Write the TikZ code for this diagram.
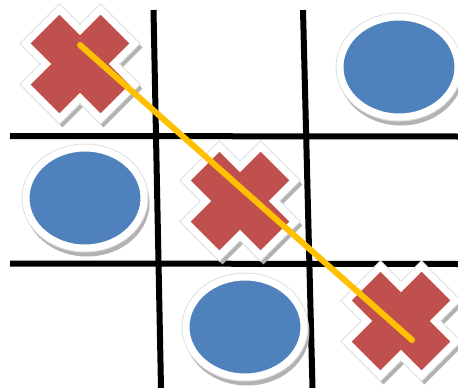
\documentclass[tikz,border=0pt]{standalone}
\usepackage{tikz}
\definecolor{xred}{HTML}{C0504D}
\definecolor{oblue}{HTML}{4F81BD}
\definecolor{wingold}{HTML}{FFC000}
% plus sign, turned 45 degrees inside the pic
\newcommand{\plusoutline}{(24,24) -- (24,53) -- (-24,53) -- (-24,24) -- (-53,24)
  -- (-53,-24) -- (-24,-24) -- (-24,-53) -- (24,-53) -- (24,-24) -- (53,-24)
  -- (53,24) -- cycle}
\tikzset{
  tttgrid/.style   = {line width=6pt, black},
  tttwin/.style    = {line width=6pt, wingold, line cap=round},
  tttshadow/.style = {fill=black!30, draw=black!30, line width=7pt},
  tttedge/.style   = {draw=black!12, line width=9pt},
  tttrim/.style    = {draw=white, line width=7pt},
  tttx/.pic = {
    \path[tttshadow, shift={(3,4)}, rotate=45] \plusoutline;
    \path[tttedge, rotate=45] \plusoutline;
    \path[tttrim, fill=xred, rotate=45] \plusoutline;
  },
  ttto/.pic = {
    \path[tttshadow] (2,5) ellipse[x radius=59, y radius=50];
    \path[tttedge] (0,0) ellipse[x radius=59, y radius=50];
    \path[tttrim, fill=oblue] (0,0) ellipse[x radius=59, y radius=50];
  }
}
\begin{document}
\begin{tikzpicture}[x=1pt, y=-1pt]
  \useasboundingbox (0,0) rectangle (458,388);

  % grid
  \coordinate (v1top) at (153.5,10);  \coordinate (v1bot) at (161,388);
  \coordinate (v2top) at (303,10);    \coordinate (v2bot) at (312.5,388);
  \coordinate (h1lft) at (10,136);    \coordinate (h1rgt) at (458,136.5);
  \coordinate (h2lft) at (10,263.5);  \coordinate (h2rgt) at (458,264);
  \draw[tttgrid] (v1top) -- (v1bot);
  \draw[tttgrid] (v2top) -- (v2bot);
  \draw[tttgrid] (h1lft) -- (h1rgt);
  \draw[tttgrid] (h2lft) -- (h2rgt);

  % pieces
  \pic at (80,64)   {tttx};
  \pic at (240,201) {tttx};
  \pic at (401,321) {tttx};
  \pic at (399,67)  {ttto};
  \pic at (85,198)  {ttto};
  \pic at (245,327) {ttto};

  % winning line
  \coordinate (winstart) at (80,45);
  \coordinate (winend)   at (412,340);
  \draw[tttwin] (winstart) -- (winend);
\end{tikzpicture}
\end{document}
